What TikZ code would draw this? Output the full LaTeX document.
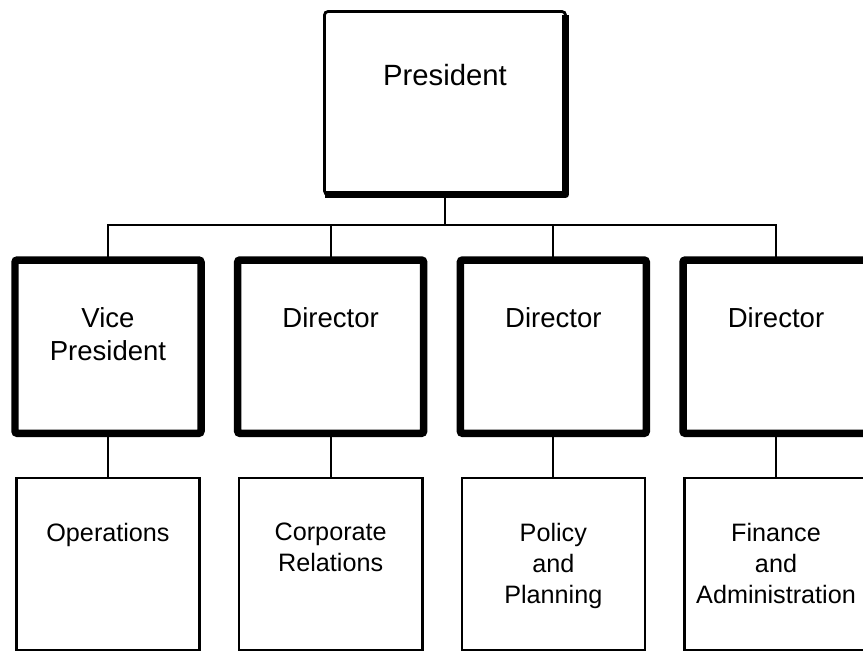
\documentclass[tikz,border=0pt]{standalone}
\usepackage{fontspec}
\setmainfont{Liberation Sans}
\usetikzlibrary{positioning}

\begin{document}
\begin{tikzpicture}[
    chief/.style={draw, line width=2.4pt, rounded corners=3pt, minimum width=7.23cm, minimum height=5.49cm, outer sep=0pt},
    head/.style={draw, line width=6.4pt, rounded corners=2pt, minimum width=5.58cm, minimum height=5.2cm, outer sep=0pt},
    unit/.style={draw, line width=2pt, minimum width=5.5cm, minimum height=5.16cm, outer sep=0pt},
    caption/.style={anchor=north, inner sep=0pt, align=center},
    chieftext/.style={caption, font=\fontsize{25}{30}\selectfont},
    headtext/.style={caption, font=\fontsize{23.5}{27.5}\selectfont},
    unittext/.style={caption, font=\fontsize{21.5}{26.5}\selectfont},
    link/.style={line width=1.9pt, line cap=rect},
    node distance=1.1cm
]

\useasboundingbox[fill=white] (0,0) rectangle (25.89,-19.65);

% Top box, with heavier bottom and right edges
\node[chief] (pres) at (13.35,-3.09) {};
\draw[line width=6pt, line join=round] (pres.south west) -- (pres.south east) -- ([yshift=-3pt]pres.north east);
\node[chieftext, below=1.58cm of pres.north] (prestext) {President};

% Second row (thick boxes)
\node[head] (vp) at (3.24,-10.4) {};
\node[head, right=of vp] (dirA) {};
\node[head, right=of dirA] (dirB) {};
\node[head, right=of dirB] (dirC) {};

\node[headtext, below=1.43cm of vp.north] (vptext) {Vice\\President};
\node[headtext, below=1.43cm of dirA.north] (dirAtext) {Director};
\node[headtext, below=1.43cm of dirB.north] (dirBtext) {Director};
\node[headtext, below=1.43cm of dirC.north] (dirCtext) {Director};

% Third row (thin boxes)
\node[unit, below=1.335cm of vp] (ops) {};
\node[unit, below=1.335cm of dirA] (corp) {};
\node[unit, below=1.335cm of dirB] (plan) {};
\node[unit, below=1.335cm of dirC] (fin) {};

\node[unittext, below=1.35cm of ops.north] (opstext) {Operations};
\node[unittext, below=1.35cm of corp.north] (corptext) {Corporate\\Relations};
\node[unittext, below=1.35cm of plan.north] (plantext) {Policy\\and\\Planning};
\node[unittext, below=1.35cm of fin.north] (fintext) {Finance\\and\\Administration};

% Connectors
\coordinate (bus) at (0,-6.75);
\draw[link] (pres.south) -- (pres.south |- bus);
\draw[link] (vp.north |- bus) -- (dirC.north |- bus);
\foreach \n in {vp,dirA,dirB,dirC} {
    \draw[link] (\n.north |- bus) -- (\n.north);
}
\foreach \a/\b in {vp/ops,dirA/corp,dirB/plan,dirC/fin} {
    \draw[link] (\a.south) -- (\b.north);
}
\end{tikzpicture}
\end{document}
